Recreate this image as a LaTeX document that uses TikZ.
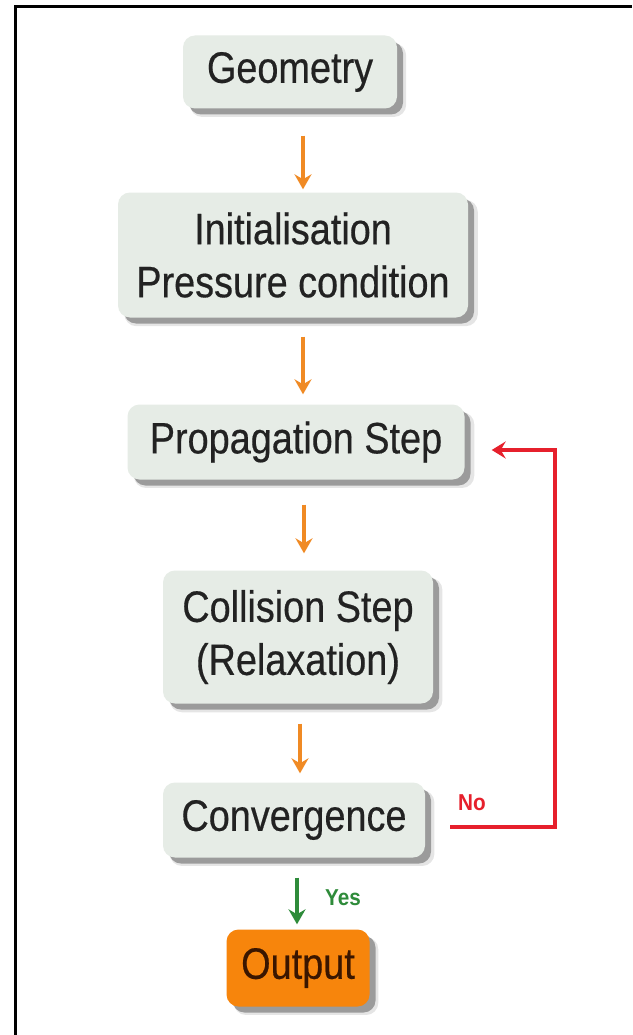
\documentclass[tikz,border=0pt]{standalone}
\usepackage{fontspec}
\setmainfont{Liberation Sans}
\newfontfamily\boxfont[FakeStretch=0.86,FakeBold=0.4]{Liberation Sans}
\newfontfamily\lblfont[FakeStretch=0.9]{Liberation Sans}
\usetikzlibrary{arrows.meta,shadows}
\definecolor{boxfill}{HTML}{E6ECE6}
\definecolor{txt}{HTML}{222222}
\definecolor{orangec}{HTML}{F08A24}
\definecolor{redc}{HTML}{E6202C}
\definecolor{greenc}{HTML}{2E8B3A}
\definecolor{outfill}{HTML}{F7850C}
\definecolor{outtxt}{HTML}{3A1600}
\begin{document}
\begin{tikzpicture}[x=1pt,y=-1pt,
  softshadow/.style={
    general shadow={fill=black, opacity=0.10, shadow xshift=8pt, shadow yshift=-8pt, shadow scale=1.01},
    general shadow={fill=black, opacity=0.32, shadow xshift=6pt, shadow yshift=-6pt}},
  box/.style={fill=boxfill, rounded corners=12pt, text=txt, align=center,
    font=\boxfont\fontsize{44}{53}\selectfont, inner sep=0pt, softshadow},
  outbox/.style={box, fill=outfill, text=outtxt},
  oarr/.style={draw=orangec, line width=3.4pt, -{Stealth[length=15pt,width=17pt,inset=5pt]}},
  rarr/.style={draw=redc, line width=3.2pt, -{Stealth[length=14pt,width=17pt,inset=5pt]}},
  garr/.style={draw=greenc, line width=3.4pt, -{Stealth[length=15pt,width=17pt,inset=5pt]}},
  lbl/.style={font=\lblfont\bfseries\fontsize{23}{25}\selectfont, inner sep=0pt}
]
\useasboundingbox (0,0) rectangle (632,1035);
\fill[white] (0,0) rectangle (632,1035);
\draw[line width=3pt] (15.5,1035) -- (15.5,7) -- (632,7);

\node[box, minimum width=214pt, minimum height=73pt] (geo) at (290,72) {Geometry};
\node[box, minimum width=350pt, minimum height=125pt] (init) at (293,255) {Initialisation\\Pressure condition};
\node[box, minimum width=337pt, minimum height=75pt] (prop) at (296,442) {Propagation Step};
\node[box, minimum width=270pt, minimum height=133pt] (coll) at (298,637) {Collision Step\\(Relaxation)};
\node[box, minimum width=262pt, minimum height=75pt] (conv) at (294,820) {Convergence};
\node[outbox, minimum width=143pt, minimum height=77pt] (out) at (298,968) {Output};

\draw[oarr] ([xshift=13pt,yshift=-27pt]geo.south) -- ([xshift=10pt,yshift=3pt]init.north);
\draw[oarr] ([xshift=10pt,yshift=-19pt]init.south) -- ([xshift=7pt,yshift=10pt]prop.north);
\draw[oarr] ([xshift=8pt,yshift=-25pt]prop.south) -- ([xshift=6pt,yshift=17pt]coll.north);
\draw[oarr] ([xshift=2pt,yshift=-20pt]coll.south) -- ([xshift=6pt,yshift=9pt]conv.north);
\draw[garr] ([xshift=3pt,yshift=-20pt]conv.south) -- ([xshift=-1pt,yshift=5pt]out.north);

\coordinate (c1) at (555,827);
\coordinate (c2) at (555,450);
\draw[rarr] ([xshift=25pt,yshift=-7pt]conv.east) -- (c1) -- (c2) -- ([xshift=27pt,yshift=-8pt]prop.east);

\node[lbl, text=redc] (lblno) at (472,803) {No};
\node[lbl, text=greenc] (lblyes) at (343,898) {Yes};
\end{tikzpicture}
\end{document}
